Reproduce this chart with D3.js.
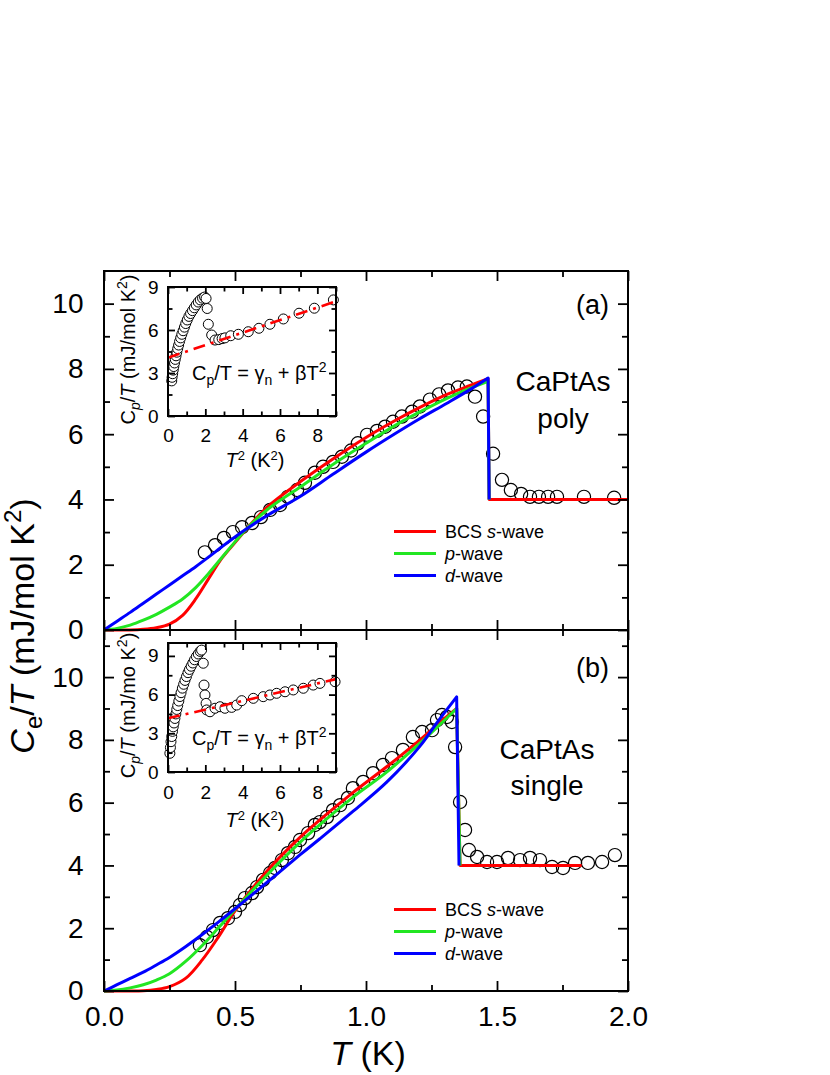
<!DOCTYPE html>
<html><head><meta charset="utf-8">
<script src="https://cdn.jsdelivr.net/npm/d3@7"></script>
<style>
body{margin:0;background:#fff}
svg{display:block;font-family:"Liberation Sans",Arial,Helvetica,sans-serif}
</style></head>
<body><svg id="c" width="830" height="1075"></svg>
<script>
// ---------- DATA ----------
// main axes ticks
const xMajorTicks = [0, 0.5, 1.0, 1.5, 2.0];
const xMinorTicks = [0.25, 0.75, 1.25, 1.75];
const yMajorTicks = [0, 2, 4, 6, 8, 10];
const yMinorTicks = [1, 3, 5, 7, 9, 11];

// panel (a) CaPtAs poly : measured Ce/T
const polyT = [0.385,0.424,0.458,0.492,0.527,0.565,0.599,0.634,0.672,0.702,0.737,0.767,0.805,0.836,0.874,0.908,0.943,0.969,1.004,1.042,1.073,1.103,1.137,1.176,1.206,1.244,1.279,1.313,1.351,1.385,1.416,1.447,1.485,1.519,1.553,1.592,1.626,1.660,1.695,1.729,1.832,1.947];
const polyC = [2.38,2.60,2.82,3.00,3.15,3.28,3.46,3.68,3.83,4.08,4.29,4.51,4.82,5.00,5.15,5.31,5.50,5.72,5.98,6.10,6.23,6.38,6.54,6.69,6.85,7.06,7.22,7.34,7.43,7.46,7.15,6.54,5.40,4.60,4.29,4.17,4.08,4.08,4.08,4.08,4.08,4.05];
// panel (a) model curves
const polyCurveT = [0,0.05,0.1,0.15,0.2,0.25,0.3,0.35,0.4,0.45,0.5,0.55,0.625,0.75,0.875,1.0,1.118,1.2,1.309,1.4,1.466];
const polyS = [0,0,0,0.02,0.07,0.18,0.45,0.95,1.58,2.20,2.68,3.15,3.78,4.55,5.25,5.90,6.45,6.80,7.22,7.50,7.70];
const polyP = [0,0.05,0.15,0.30,0.48,0.70,0.95,1.30,1.74,2.22,2.70,3.15,3.70,4.39,5.08,5.72,6.30,6.66,7.10,7.42,7.62];
const polyD = [0,0.27,0.54,0.82,1.10,1.38,1.66,1.94,2.24,2.55,2.85,3.13,3.52,4.10,4.78,5.45,6.05,6.45,6.95,7.38,7.72];
const polyTailS = [[1.47,4.0],[2.0,4.0]];
const polyTailP = [[1.47,4.0]];
const polyTailD = [[1.47,4.0]];

// panel (b) CaPtAs single : measured Ce/T
const singleT = [0.366,0.393,0.416,0.443,0.473,0.500,0.519,0.538,0.565,0.584,0.607,0.634,0.653,0.679,0.702,0.729,0.748,0.779,0.805,0.824,0.851,0.874,0.901,0.931,0.950,0.989,1.027,1.065,1.099,1.141,1.179,1.214,1.252,1.271,1.290,1.309,1.328,1.340,1.359,1.378,1.393,1.424,1.462,1.500,1.542,1.588,1.626,1.664,1.710,1.752,1.798,1.847,1.901,1.950];
const singleC = [1.46,1.72,1.94,2.17,2.32,2.52,2.74,2.96,3.12,3.31,3.54,3.76,3.92,4.17,4.39,4.59,4.81,5.03,5.29,5.38,5.54,5.76,5.92,6.15,6.46,6.66,6.94,7.20,7.42,7.68,8.09,8.25,8.31,8.63,8.79,8.73,8.57,7.77,6.02,5.13,4.49,4.27,4.11,4.11,4.24,4.17,4.24,4.17,3.95,3.92,4.08,4.08,4.11,4.33];
// panel (b) model curves
const singleCurveT = [0,0.05,0.1,0.15,0.2,0.25,0.3125,0.375,0.4375,0.5,0.625,0.75,0.824,0.95,1.08,1.206,1.271,1.346];
const singleS = [0,0,0,0.01,0.05,0.14,0.41,0.99,1.73,2.55,3.85,4.91,5.45,6.32,7.15,8.00,8.48,9.00];
const singleP = [0,0.03,0.10,0.20,0.35,0.55,0.95,1.45,2.02,2.60,3.72,4.75,5.30,6.17,6.98,7.90,8.40,9.00];
const singleD = [0,0.20,0.40,0.60,0.83,1.07,1.42,1.80,2.20,2.62,3.48,4.35,4.85,5.72,6.66,7.80,8.55,9.37];
const singleTailS = [[1.359,4.0],[1.823,4.0]];
const singleTailP = [[1.359,4.0]];
const singleTailD = [[1.355,4.0]];

// insets: Cp/T vs T^2
const insetXMajor = [0,2,4,6,8];
const insetXMinor = [1,3,5,7,9];
const insetYMajor = [0,3,6,9];
const insetYMinor = [1.5,4.5,7.5];
const polyInsetT2 = [0.2,0.22,0.25,0.28,0.31,0.35,0.39,0.43,0.47,0.52,0.57,0.62,0.68,0.74,0.81,0.88,0.95,1.03,1.12,1.21,1.31,1.41,1.51,1.62,1.73,1.85,1.96,2.04,2.10,2.16,2.34,2.52,2.72,2.90,3.05,3.36,3.77,4.30,4.87,5.46,6.18,7.02,7.84,8.86];
const polyInsetC = [2.45,2.70,2.95,3.20,3.45,3.70,3.95,4.20,4.45,4.70,4.95,5.20,5.45,5.70,5.95,6.20,6.45,6.70,6.95,7.15,7.35,7.55,7.75,7.95,8.10,8.22,8.30,8.20,7.50,6.40,5.65,5.30,5.33,5.40,5.45,5.60,5.70,5.88,6.12,6.40,6.77,7.17,7.52,8.10];
const polyFitT2 = [0, 9];
const polyFitC = [4.07, 8.0];
const singleInsetT2 = [0.10,0.13,0.16,0.20,0.24,0.28,0.32,0.37,0.42,0.47,0.52,0.58,0.64,0.70,0.77,0.84,0.91,0.99,1.07,1.15,1.24,1.33,1.42,1.52,1.62,1.72,1.80,1.89,1.93,1.98,2.04,2.07,2.25,2.52,2.79,3.05,3.41,3.68,3.95,4.57,5.10,5.46,5.82,6.27,6.71,7.25,7.78,8.14,8.95];
const singleInsetC = [1.45,1.90,2.35,2.75,3.15,3.50,3.80,4.15,4.50,4.85,5.15,5.50,5.85,6.15,6.50,6.80,7.10,7.40,7.70,7.95,8.20,8.45,8.70,8.95,9.15,9.35,9.45,8.43,6.74,5.97,5.32,4.81,4.67,4.94,5.06,4.94,5.01,5.19,5.53,5.71,5.84,5.97,6.10,6.22,6.36,6.49,6.74,6.87,7.00];
const singleFitT2 = [0, 9];
const singleFitC = [4.16, 7.2];

const legendPrefix = ["BCS ", "", ""];
const legendItalic = ["s", "p", "d"];
const legendSuffix = ["-wave", "-wave", "-wave"];
const seriesColors = ["#ff0000", "#22e622", "#0000ff"];

// ---------- DRAWING ----------
const svg = d3.select("#c");
svg.append("rect").attr("width",830).attr("height",1075).attr("fill","#fff");

const x = d3.scaleLinear().domain([0,2]).range([104,628]);
const yTop = d3.scaleLinear().domain([0,11]).range([630,271]);
const yBot = d3.scaleLinear().domain([0,11.5]).range([991,630]);

function styleAxis(g, fs){
  g.select(".domain").remove();
  g.selectAll(".tick line").attr("stroke","#000").attr("stroke-width",1.8);
  g.selectAll("text").attr("font-size",fs).attr("fill","#000")
    .attr("font-family",'"Liberation Sans",Arial,sans-serif');
  g.attr("font-family",null).attr("font-size",null);
}

function mainAxes(ys, showXLabels){
  const g = svg.append("g");
  const [yb, yt] = ys.range();
  g.append("g").attr("transform",`translate(0,${yb})`)
    .call(d3.axisBottom(x).tickValues(xMajorTicks).tickSize(-10).tickPadding(15)
      .tickFormat(showXLabels ? d3.format(".1f") : ""))
    .call(a=>styleAxis(a,28));
  g.append("g").attr("transform",`translate(0,${yb})`)
    .call(d3.axisBottom(x).tickValues(xMinorTicks).tickSize(-6).tickFormat(""))
    .call(a=>styleAxis(a,28));
  g.append("g").attr("transform",`translate(0,${yt})`)
    .call(d3.axisTop(x).tickValues(xMajorTicks).tickSize(-10).tickFormat(""))
    .call(a=>styleAxis(a,28));
  g.append("g").attr("transform",`translate(0,${yt})`)
    .call(d3.axisTop(x).tickValues(xMinorTicks).tickSize(-6).tickFormat(""))
    .call(a=>styleAxis(a,28));
  const maxY = ys.domain()[1];
  const maj = yMajorTicks.filter(v=>v<=maxY), mnr = yMinorTicks.filter(v=>v<maxY);
  g.append("g").attr("transform",`translate(104,0)`)
    .call(d3.axisLeft(ys).tickValues(maj).tickSize(-10).tickPadding(20.5).tickFormat(d3.format("d")))
    .call(a=>styleAxis(a,28));
  g.append("g").attr("transform",`translate(104,0)`)
    .call(d3.axisLeft(ys).tickValues(mnr).tickSize(-6).tickFormat(""))
    .call(a=>styleAxis(a,28));
  g.append("g").attr("transform",`translate(628,0)`)
    .call(d3.axisRight(ys).tickValues(maj).tickSize(-10).tickFormat(""))
    .call(a=>styleAxis(a,28));
  g.append("g").attr("transform",`translate(628,0)`)
    .call(d3.axisRight(ys).tickValues(mnr).tickSize(-6).tickFormat(""))
    .call(a=>styleAxis(a,28));
  g.append("rect").attr("x",104).attr("y",yt).attr("width",524).attr("height",yb-yt)
    .attr("fill","none").attr("stroke","#000").attr("stroke-width",2);
}

function drawPanel(ys, T, C, curveT, curves, tails){
  const g = svg.append("g");
  g.selectAll("circle").data(T.map((t,i)=>[t,C[i]])).join("circle")
    .attr("cx",d=>x(d[0])).attr("cy",d=>ys(d[1])).attr("r",6.6)
    .attr("fill","none").attr("stroke","#000").attr("stroke-width",1.2);
  const smooth = d3.line().x(d=>x(d[0])).y(d=>ys(d[1])).curve(d3.curveCatmullRom.alpha(0.5));
  const lin = d3.line().x(d=>x(d[0])).y(d=>ys(d[1]));
  curves.forEach((vals,k)=>{
    const pts = curveT.map((t,i)=>[t,vals[i]]);
    const tail = [pts[pts.length-1]].concat(tails[k]);
    const dstr = smooth(pts) + lin(tail).replace(/^M/,"L");
    g.append("path").attr("d",dstr).attr("fill","none").attr("stroke",seriesColors[k])
      .attr("stroke-width",3).attr("stroke-linejoin","round");
  });
}

function legend(y0){
  const g = svg.append("g");
  legendItalic.forEach((it,i)=>{
    const yy = y0 + i*22;
    g.append("line").attr("x1",394).attr("x2",436).attr("y1",yy).attr("y2",yy)
      .attr("stroke",seriesColors[i]).attr("stroke-width",3);
    const t = g.append("text").attr("x",445).attr("y",yy+6.5).attr("font-size",18).attr("fill","#000");
    if(legendPrefix[i]) t.append("tspan").text(legendPrefix[i]);
    t.append("tspan").attr("font-style","italic").text(it);
    t.append("tspan").text(legendSuffix[i]);
  });
}

function inset(box, ydom, T2, C, fitT, fitC, ylabelUnit, tickLabelBaselineOff, xTitleBaseline, eqBaseline){
  const ix = d3.scaleLinear().domain([0,9]).range([box.x0,box.x1]);
  const iy = d3.scaleLinear().domain(ydom).range([box.y1,box.y0]);
  const g = svg.append("g");
  g.append("rect").attr("x",box.x0).attr("y",box.y0).attr("width",box.x1-box.x0).attr("height",box.y1-box.y0)
    .attr("fill","#fff");
  g.append("g").selectAll("circle").data(T2.map((t,i)=>[t,C[i]])).join("circle")
    .attr("cx",d=>ix(d[0])).attr("cy",d=>iy(d[1])).attr("r",5)
    .attr("fill","#fff").attr("stroke","#000").attr("stroke-width",1);
  g.append("path").attr("d",d3.line().x(d=>ix(d[0])).y(d=>iy(d[1]))(fitT.map((t,i)=>[t,fitC[i]])))
    .attr("stroke","#ff0000").attr("stroke-width",2.6).attr("fill","none")
    .attr("stroke-dasharray","12,6,3,6");
  const pad = tickLabelBaselineOff - 0.71*19;
  g.append("g").attr("transform",`translate(0,${box.y1})`)
    .call(d3.axisBottom(ix).tickValues(insetXMajor).tickSize(-7).tickPadding(pad).tickFormat(d3.format("d")))
    .call(a=>styleAxis(a,19));
  g.append("g").attr("transform",`translate(0,${box.y1})`)
    .call(d3.axisBottom(ix).tickValues(insetXMinor).tickSize(-4.5).tickFormat(""))
    .call(a=>styleAxis(a,19));
  g.append("g").attr("transform",`translate(0,${box.y0})`)
    .call(d3.axisTop(ix).tickValues(insetXMajor).tickSize(-7).tickFormat(""))
    .call(a=>styleAxis(a,19));
  g.append("g").attr("transform",`translate(0,${box.y0})`)
    .call(d3.axisTop(ix).tickValues(insetXMinor).tickSize(-4.5).tickFormat(""))
    .call(a=>styleAxis(a,19));
  g.append("g").attr("transform",`translate(${box.x0},0)`)
    .call(d3.axisLeft(iy).tickValues(insetYMajor).tickSize(-7).tickPadding(9.5).tickFormat(d3.format("d")))
    .call(a=>styleAxis(a,19));
  g.append("g").attr("transform",`translate(${box.x0},0)`)
    .call(d3.axisLeft(iy).tickValues(insetYMinor).tickSize(-4.5).tickFormat(""))
    .call(a=>styleAxis(a,19));
  g.append("g").attr("transform",`translate(${box.x1},0)`)
    .call(d3.axisRight(iy).tickValues(insetYMajor).tickSize(-7).tickFormat(""))
    .call(a=>styleAxis(a,19));
  g.append("g").attr("transform",`translate(${box.x1},0)`)
    .call(d3.axisRight(iy).tickValues(insetYMinor).tickSize(-4.5).tickFormat(""))
    .call(a=>styleAxis(a,19));
  g.append("rect").attr("x",box.x0).attr("y",box.y0).attr("width",box.x1-box.x0).attr("height",box.y1-box.y0)
    .attr("fill","none").attr("stroke","#000").attr("stroke-width",2);
  const yt = g.append("text").attr("transform",`translate(135,${(box.y0+box.y1)/2-2}) rotate(-90)`)
    .attr("text-anchor","middle").attr("font-size",20).attr("fill","#000");
  yt.append("tspan").text("C");
  yt.append("tspan").attr("font-style","italic").attr("font-size",14).attr("dy",5).text("p");
  yt.append("tspan").attr("dy",-5).text("/");
  yt.append("tspan").attr("font-style","italic").text("T");
  yt.append("tspan").text(" (" + ylabelUnit + " K");
  yt.append("tspan").attr("font-size",14).attr("dy",-8).text("2");
  yt.append("tspan").attr("dy",8).text(")");
  const xt = g.append("text").attr("x",(box.x0+box.x1)/2+3).attr("y",xTitleBaseline)
    .attr("text-anchor","middle").attr("font-size",20).attr("fill","#000");
  xt.append("tspan").attr("font-style","italic").text("T");
  xt.append("tspan").attr("font-size",13).attr("dy",-7).text("2");
  xt.append("tspan").attr("dy",7).text(" (K");
  xt.append("tspan").attr("font-size",13).attr("dy",-7).text("2");
  xt.append("tspan").attr("dy",7).text(")");
  const eq = g.append("text").attr("x",192).attr("y",eqBaseline).attr("font-size",20).attr("fill","#000");
  eq.append("tspan").text("C");
  eq.append("tspan").attr("font-size",14).attr("dy",5).text("p");
  eq.append("tspan").attr("dy",-5).text("/T = \u03B3");
  eq.append("tspan").attr("font-size",14).attr("dy",5).text("n");
  eq.append("tspan").attr("dy",-5).text(" + \u03B2T");
  eq.append("tspan").attr("font-size",14).attr("dy",-8).text("2");
}

drawPanel(yTop, polyT, polyC, polyCurveT, [polyS,polyP,polyD], [polyTailS,polyTailP,polyTailD]);
drawPanel(yBot, singleT, singleC, singleCurveT, [singleS,singleP,singleD], [singleTailS,singleTailP,singleTailD]);
mainAxes(yTop, false);
mainAxes(yBot, true);
legend(531.5);
legend(909.5);

inset({x0:168,x1:336,y0:287,y1:416},[0,9],polyInsetT2,polyInsetC,polyFitT2,polyFitC,"mJ/mol",26,467,380);
inset({x0:168,x1:336,y0:643,y1:772},[0,10],singleInsetT2,singleInsetC,singleFitT2,singleFitC,"mJ/mo",27,827,745);

function label(txt, xx, yy, anchor, fs){
  svg.append("text").attr("x",xx).attr("y",yy).attr("text-anchor",anchor)
    .attr("font-size",fs).attr("fill","#000").text(txt);
}
label("(a)", 609, 314, "end", 27);
label("CaPtAs", 563, 391, "middle", 28);
label("poly", 563, 428, "middle", 28);
label("(b)", 609, 677, "end", 27);
label("CaPtAs", 547, 759, "middle", 28);
label("single", 547, 795, "middle", 28);

const xt = svg.append("text").attr("x",368).attr("y",1065).attr("text-anchor","middle")
  .attr("font-size",34).attr("fill","#000");
xt.append("tspan").attr("font-style","italic").text("T");
xt.append("tspan").text(" (K)");

const yt = svg.append("text").attr("transform","translate(34,626) rotate(-90)")
  .attr("text-anchor","middle").attr("font-size",34).attr("fill","#000");
yt.append("tspan").attr("font-style","italic").text("C");
yt.append("tspan").attr("font-size",24).attr("dy",8).text("e");
yt.append("tspan").attr("dy",-8).text("/");
yt.append("tspan").attr("font-style","italic").text("T");
yt.append("tspan").text(" (mJ/mol K");
yt.append("tspan").attr("font-size",24).attr("dy",-13).text("2");
yt.append("tspan").attr("dy",13).text(")");
</script>
</body></html>
